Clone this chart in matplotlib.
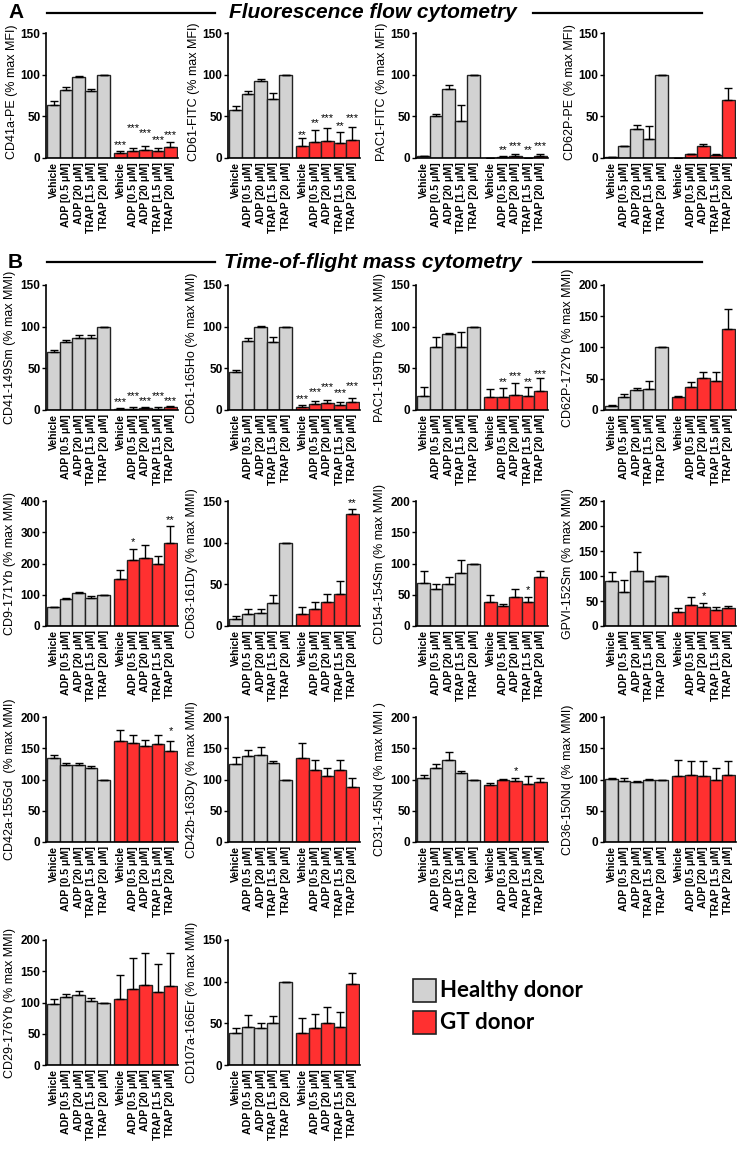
import matplotlib
matplotlib.use("Agg")
import matplotlib.pyplot as plt
from matplotlib.lines import Line2D
from matplotlib.patches import Rectangle
import numpy as np

plt.rcParams["font.family"] = ["Liberation Sans", "DejaVu Sans"]
plt.rcParams["font.weight"] = "bold"

CONDITIONS = ["Vehicle", "ADP [0.5 \u03bcM]", "ADP [20 \u03bcM]", "TRAP [1.5 \u03bcM]", "TRAP [20 \u03bcM]"]

MARKERS = [
    "CD41a-PE (% max MFI)", "CD61-FITC (% max MFI)", "PAC1-FITC (% max MFI)", "CD62P-PE (% max MFI)",
    "CD41-149Sm (% max MMI)", "CD61-165Ho (% max MMI)", "PAC1-159Tb (% max MMI)", "CD62P-172Yb (% max MMI)",
    "CD9-171Yb (% max MMI)", "CD63-161Dy (% max MMI)", "CD154-154Sm (% max MMI)", "GPVI-152Sm (% max MMI)",
    "CD42a-155Gd  (% max MMI)", "CD42b-163Dy (% max MMI)", "CD31-145Nd (% max MMI )", "CD36-150Nd (% max MMI)",
    "CD29-176Yb (% max MMI)", "CD107a-166Er (% max MMI)",
]
Y_MAX = [150, 150, 150, 150, 150, 150, 150, 200, 400, 150, 200, 250, 200, 200, 200, 200, 200, 150]
Y_STEP = [50, 50, 50, 50, 50, 50, 50, 50, 100, 50, 50, 50, 50, 50, 50, 50, 50, 50]

HEALTHY_MEAN = [
    [64, 82, 97, 80, 100], [58, 77, 92, 71, 100], [3, 51, 83, 44, 100], [1, 14, 35, 23, 100],
    [69, 81, 86, 86, 100], [45, 83, 99, 81, 100], [17, 75, 91, 75, 100], [7, 21, 32, 34, 100],
    [60, 87, 105, 90, 100], [8, 15, 16, 28, 100], [69, 59, 67, 85, 100], [91, 69, 111, 90, 100],
    [134, 123, 123, 119, 100], [125, 137, 140, 126, 100], [102, 119, 132, 110, 100], [101, 98, 96, 99, 100],
    [98, 109, 112, 103, 100], [38, 46, 44, 51, 100],
]
HEALTHY_ERR = [
    [5, 3, 2, 3, 0], [4, 3, 3, 7, 0], [0, 2, 5, 20, 0], [0, 1, 5, 15, 0],
    [3, 3, 4, 4, 0], [3, 3, 2, 6, 0], [10, 13, 1, 18, 0], [1, 4, 3, 12, 0],
    [0, 3, 3, 6, 0], [4, 6, 5, 9, 0], [19, 9, 11, 20, 0], [18, 24, 38, 1, 0],
    [5, 4, 3, 2, 0], [11, 11, 12, 4, 0], [6, 6, 12, 4, 0], [2, 4, 1, 2, 0],
    [7, 4, 7, 4, 0], [7, 14, 7, 8, 0],
]
GT_MEAN = [
    [6, 8, 10, 8, 13], [14, 19, 21, 18, 22], [0.5, 1, 3, 0.5, 3], [0.5, 5, 14, 4, 70],
    [1, 1.5, 2, 1.5, 3], [4, 7, 8, 6, 9], [16, 15, 18, 17, 23], [20, 36, 51, 47, 130],
    [152, 210, 218, 197, 266], [15, 21, 29, 38, 134], [39, 32, 47, 39, 78], [28, 42, 38, 33, 37],
    [161, 159, 154, 157, 146], [135, 115, 105, 115, 88], [92, 99, 98, 93, 96], [106, 107, 106, 99, 107],
    [106, 121, 128, 117, 127], [39, 44, 50, 46, 97],
]
GT_ERR = [
    [3, 4, 4, 4, 6], [10, 15, 15, 13, 15], [0, 1, 2, 0, 2], [0, 0, 3, 1, 14],
    [1, 1.5, 1.5, 1.5, 2], [2, 4, 4, 4, 5], [9, 11, 14, 11, 15], [3, 8, 10, 14, 32],
    [27, 38, 40, 27, 53], [8, 8, 10, 16, 7], [11, 4, 12, 8, 10], [8, 16, 8, 6, 4],
    [18, 13, 10, 15, 15], [24, 16, 13, 17, 15], [3, 2, 5, 12, 7], [25, 22, 24, 20, 22],
    [38, 50, 51, 44, 52], [17, 17, 20, 18, 14],
]
# significance marks over the GT bars and the height they sit at
GT_STARS = [
    ["***"] * 5, ["**", "**", "***", "**", "***"], ["", "**", "***", "**", "***"], [""] * 5,
    ["***"] * 5, ["***"] * 5, ["", "**", "***", "**", "***"], [""] * 5,
    ["", "*", "", "", "**"], ["", "", "", "", "**"], ["", "", "", "*", ""], ["", "", "*", "", ""],
    ["", "", "", "", "*"], [""] * 5, ["", "", "*", "", ""], [""] * 5,
    [""] * 5, [""] * 5,
]
STAR_Y = [
    [16, 36, 30, 22, 28], [27, 42, 48, 38, 48], [0, 10, 14, 10, 14], [0] * 5,
    [10, 17, 11, 17, 11], [13, 21, 28, 20, 29], [0, 33, 41, 33, 43], [0] * 5,
    [0, 267, 0, 0, 338], [0, 0, 0, 0, 148], [0, 0, 0, 58, 0], [0, 0, 60, 0, 0],
    [0, 0, 0, 0, 177], [0] * 5, [0, 0, 114, 0, 0], [0] * 5,
    [0] * 5, [0] * 5,
]

GRAY = "#d2d2d2"
RED = "#ff3030"
W, H = 741, 1150

fig = plt.figure(figsize=(W / 100, H / 100), dpi=100)

col_left = [46, 228, 416, 604]
row_top = [33, 285, 501, 717, 940]
ax_w, ax_h = 132, 125

x_hd = np.arange(5)
x_gt = np.arange(5) + 5.35

for i, label in enumerate(MARKERS):
    if i < 4:
        row, col = 0, i
    else:
        row, col = 1 + (i - 4) // 4, (i - 4) % 4
    left, top = col_left[col], row_top[row]
    ax = fig.add_axes([left / W, 1 - (top + ax_h) / H, ax_w / W, ax_h / H])

    err_kw = dict(ecolor="black", elinewidth=1, capsize=3, capthick=1)
    ax.bar(x_hd, HEALTHY_MEAN[i], width=1, color=GRAY, edgecolor="#222222", linewidth=1,
           yerr=[np.zeros(5), HEALTHY_ERR[i]], error_kw=err_kw, zorder=2)
    ax.bar(x_gt, GT_MEAN[i], width=1, color=RED, edgecolor="#222222", linewidth=1,
           yerr=[np.zeros(5), GT_ERR[i]], error_kw=err_kw, zorder=2)

    for x, s, y in zip(x_gt, GT_STARS[i], STAR_Y[i]):
        if s:
            ax.text(x, y, s, ha="center", va="center", fontsize=8, fontweight="normal")

    ax.set_xlim(-0.6, 9.95)
    ax.set_ylim(0, Y_MAX[i])
    ax.set_yticks(np.arange(0, Y_MAX[i] + 1, Y_STEP[i]))
    ax.tick_params(axis="y", labelsize=8.5, length=3, width=1, pad=1)
    ax.set_xticks(np.concatenate([x_hd, x_gt]))
    ax.set_xticklabels(CONDITIONS * 2, rotation=90, fontsize=7.6)
    ax.tick_params(axis="x", length=0, pad=3)
    ax.set_ylabel(label, fontsize=9, labelpad=3)
    if row == 0:
        ax.yaxis.set_label_coords(-0.21, 0.53)
    for side in ("top", "right"):
        ax.spines[side].set_visible(False)
    for side in ("left", "bottom"):
        ax.spines[side].set_linewidth(1.2)

# section headers
for letter, title, y in [("A", "Fluorescence flow cytometry", 13), ("B", "Time-of-flight mass cytometry", 262)]:
    fig.text(8 / W, 1 - y / H, letter, fontsize=15, fontweight="bold", va="center", ha="left")
    fig.text(373 / W, 1 - y / H, title, fontsize=15, fontweight="bold", style="italic",
             va="center", ha="center")
    fig.add_artist(Line2D([47 / W, 215 / W], [1 - y / H] * 2, color="black", lw=1.6))
    fig.add_artist(Line2D([533 / W, 702 / W], [1 - y / H] * 2, color="black", lw=1.6))

# legend
for name, color, y in [("Healthy donor", GRAY, 979), ("GT donor", RED, 1011)]:
    fig.add_artist(Rectangle((413 / W, 1 - (y + 23) / H), 23 / W, 23 / H, facecolor=color,
                             edgecolor="#222222", lw=1.2, transform=fig.transFigure))
    fig.text(440 / W, 1 - (y + 11.5) / H, name, fontsize=16, fontweight="bold",
             family=["Lato", "DejaVu Sans"], va="center", ha="left")

fig.savefig("out.png", dpi=100)
